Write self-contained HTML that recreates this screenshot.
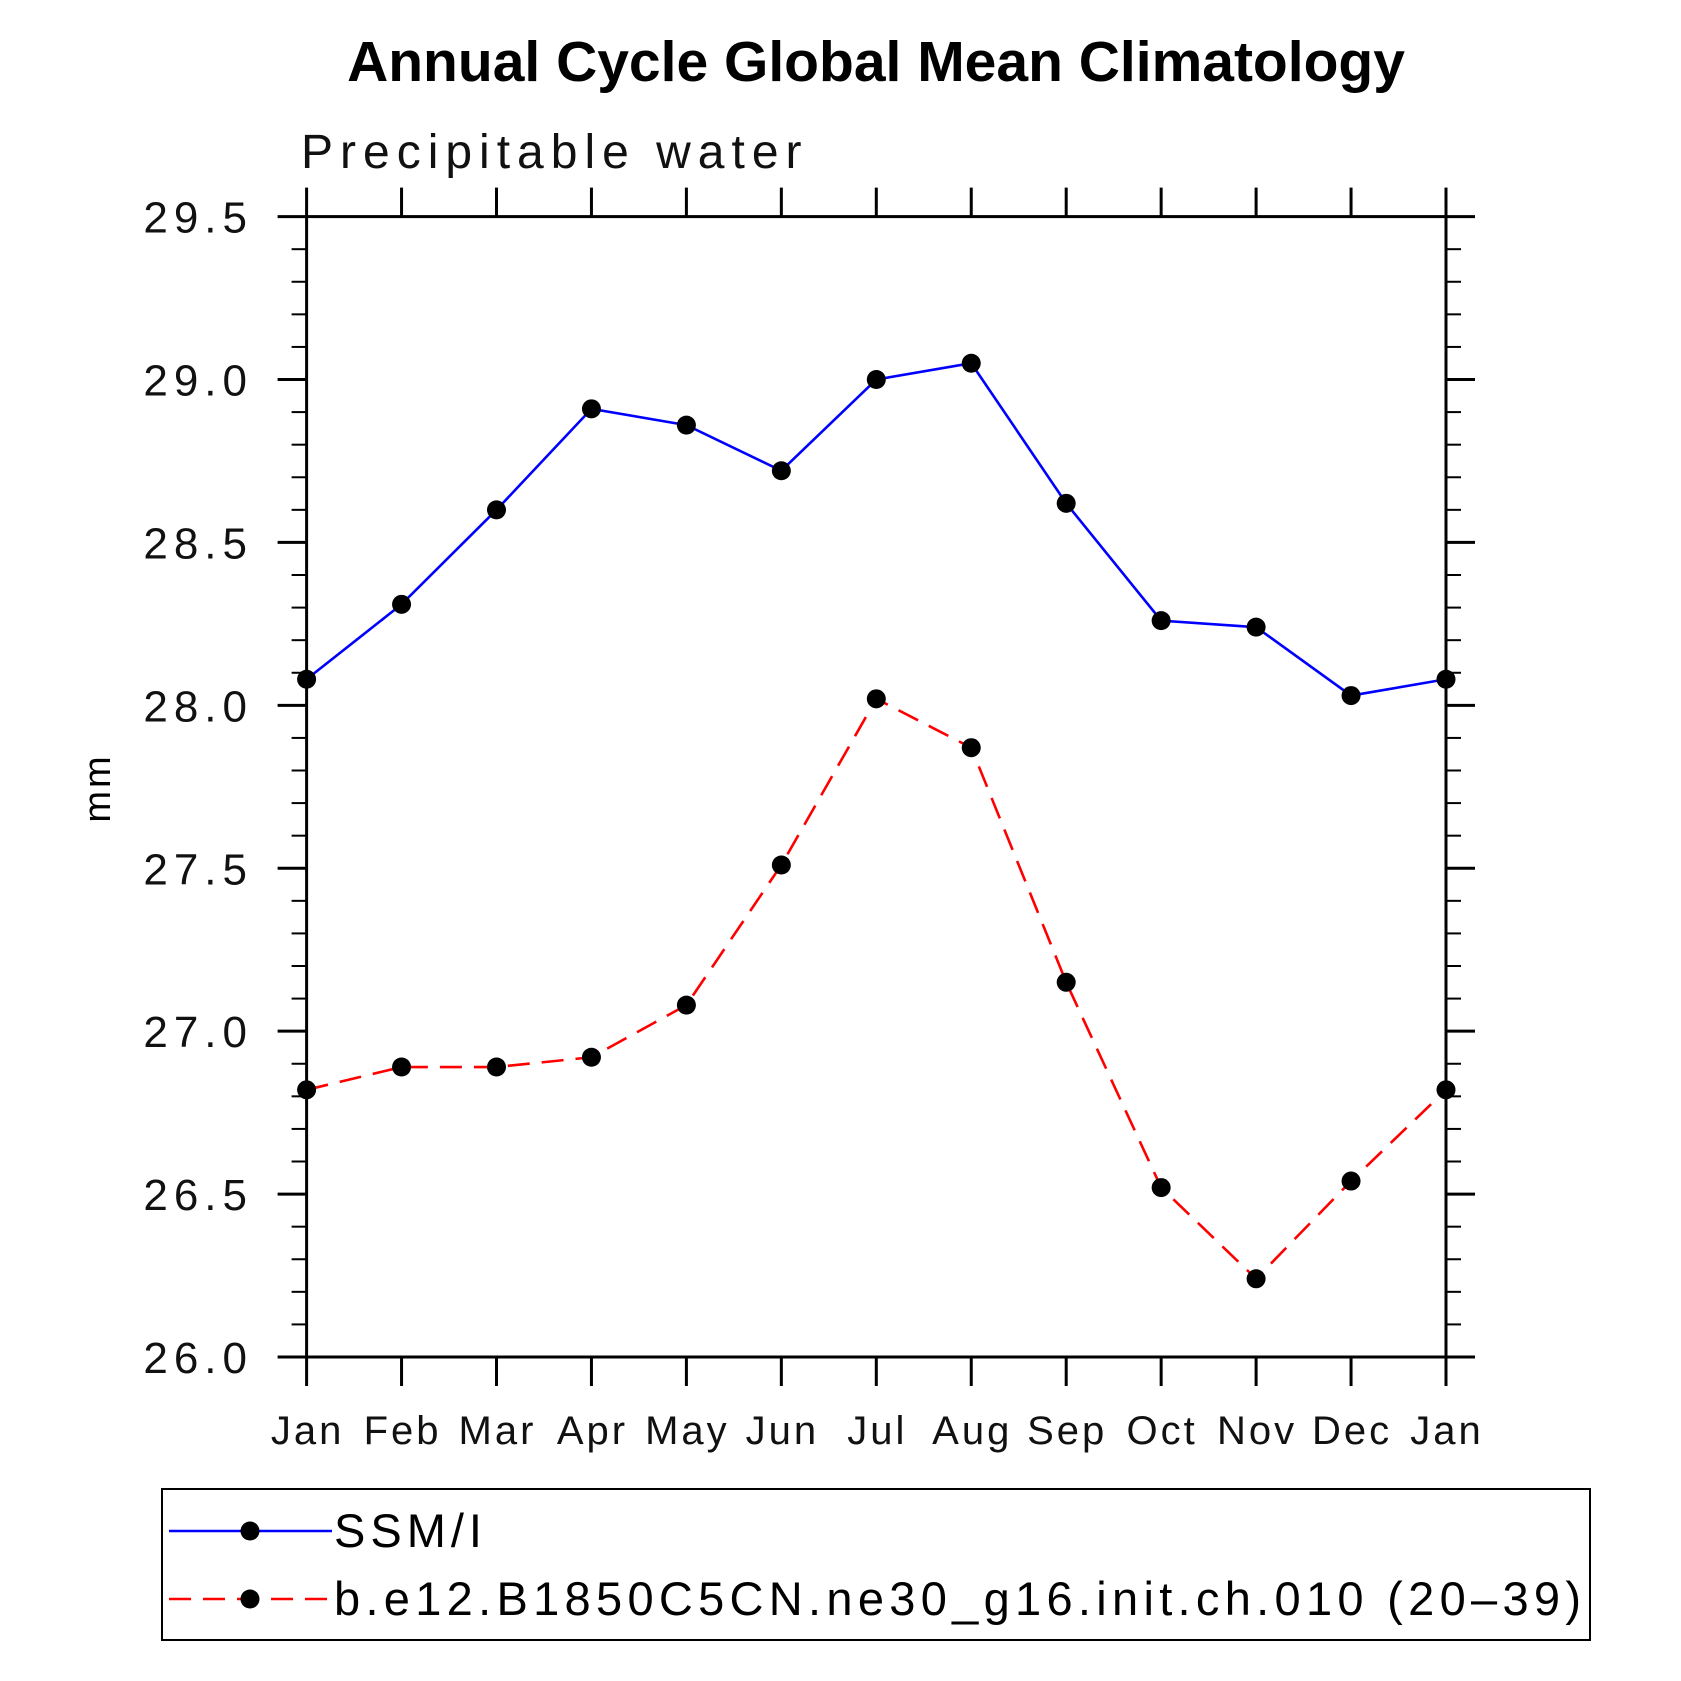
<!DOCTYPE html>
<html><head><meta charset="utf-8"><style>
body{margin:0;background:#fff}
svg{display:block}
text{font-family:"Liberation Sans",sans-serif}
</style></head><body>
<svg id="chart" width="1681" height="1681" viewBox="0 0 1681 1681">
<text x="876" y="81" text-anchor="middle" font-size="57" font-weight="bold">Annual Cycle Global Mean Climatology</text>
<text x="301" y="168" font-size="48" font-weight="300" letter-spacing="7" fill="#111">Precipitable water</text>
<text transform="translate(110,788) rotate(-90)" text-anchor="middle" font-size="38" letter-spacing="3">mm</text>
<g id="axes"></g>
<g id="series"></g>
<rect x="162" y="1489" width="1428" height="151" fill="none" stroke="#000" stroke-width="2"/>
<g>
<line x1="169" y1="1531" x2="332" y2="1531" stroke="#0000ff" stroke-width="2.6"/>
<circle cx="250" cy="1531" r="9.5" fill="#000"/>
<text x="334" y="1547" font-size="47" letter-spacing="5">SSM/I</text>
</g>
<g>
<line x1="169" y1="1599" x2="332" y2="1599" stroke="#ff0000" stroke-width="2.6" stroke-dasharray="22,12"/>
<circle cx="250" cy="1599" r="9.5" fill="#000"/>
<text x="334" y="1615" font-size="47" letter-spacing="5.3">b.e12.B1850C5CN.ne30_g16.init.ch.010 (20–39)</text>
</g>
</svg>
<script>
const months=["Jan","Feb","Mar","Apr","May","Jun","Jul","Aug","Sep","Oct","Nov","Dec","Jan"];
const ssmiValues=[28.08,28.31,28.6,28.91,28.86,28.72,29.0,29.05,28.62,28.26,28.24,28.03,28.08];
const modelValues=[26.82,26.89,26.89,26.92,27.08,27.51,28.02,27.87,27.15,26.52,26.24,26.54,26.82];
const yTickLabels=["26.0","26.5","27.0","27.5","28.0","28.5","29.0","29.5"];
const NS="http://www.w3.org/2000/svg";
const L=306.6,R=1446,T=216.6,B=1357,YMIN=26,YMAX=29.5;
const xs=i=>L+(R-L)*i/(months.length-1);
const ys=v=>B-(B-T)*(v-YMIN)/(YMAX-YMIN);
function mk(tag,attrs,parent){const e=document.createElementNS(NS,tag);for(const k in attrs)e.setAttribute(k,attrs[k]);parent.appendChild(e);return e;}
const ax=document.getElementById('axes');
const frame=mk('rect',{x:L,y:T,width:R-L,height:B-T,fill:'none',stroke:'#000','stroke-width':3},ax);


months.forEach((m,i)=>{
  const x=xs(i);
  mk('line',{x1:x,y1:B,x2:x,y2:B+29,stroke:'#000','stroke-width':3},ax);
  mk('line',{x1:x,y1:T,x2:x,y2:T-29,stroke:'#000','stroke-width':3},ax);
  const t=mk('text',{x:x+1,y:1444,'text-anchor':'middle','font-size':40,'letter-spacing':3,fill:'#111'},ax);
  t.textContent=m;
  
  
});
for(let k=0;k<=35;k++){
  const v=YMIN+k*0.1,y=ys(v),major=k%5===0;
  const len=major?29:15;
  mk('line',{x1:L-len,y1:y,x2:L,y2:y,stroke:'#000','stroke-width':major?3:2},ax);
  mk('line',{x1:R,y1:y,x2:R+len,y2:y,stroke:'#000','stroke-width':major?3:2},ax);
}
yTickLabels.forEach(s=>{
  const t=mk('text',{x:253,y:ys(parseFloat(s))+16,'text-anchor':'end','font-size':44,'letter-spacing':6,fill:'#111'},ax);
  t.textContent=s;
  
  
});
const sg=document.getElementById('series');
function drawSeries(vals,color,dash,name){
  const g=mk('g',{},sg);
  
  
  const pl=mk('polyline',{points:vals.map((v,i)=>xs(i)+','+ys(v)).join(' '),fill:'none',stroke:color,'stroke-width':2.6},g);
  if(dash)pl.setAttribute('stroke-dasharray',dash);
  vals.forEach((v,i)=>{
    const c=mk('circle',{cx:xs(i),cy:ys(v),r:9.5,fill:'#000'},g);
    
    
  });
}
drawSeries(ssmiValues,'#0000ff',null,'ssmi-series');
drawSeries(modelValues,'#ff0000','22,12','model-series');
</script>
</body></html>
